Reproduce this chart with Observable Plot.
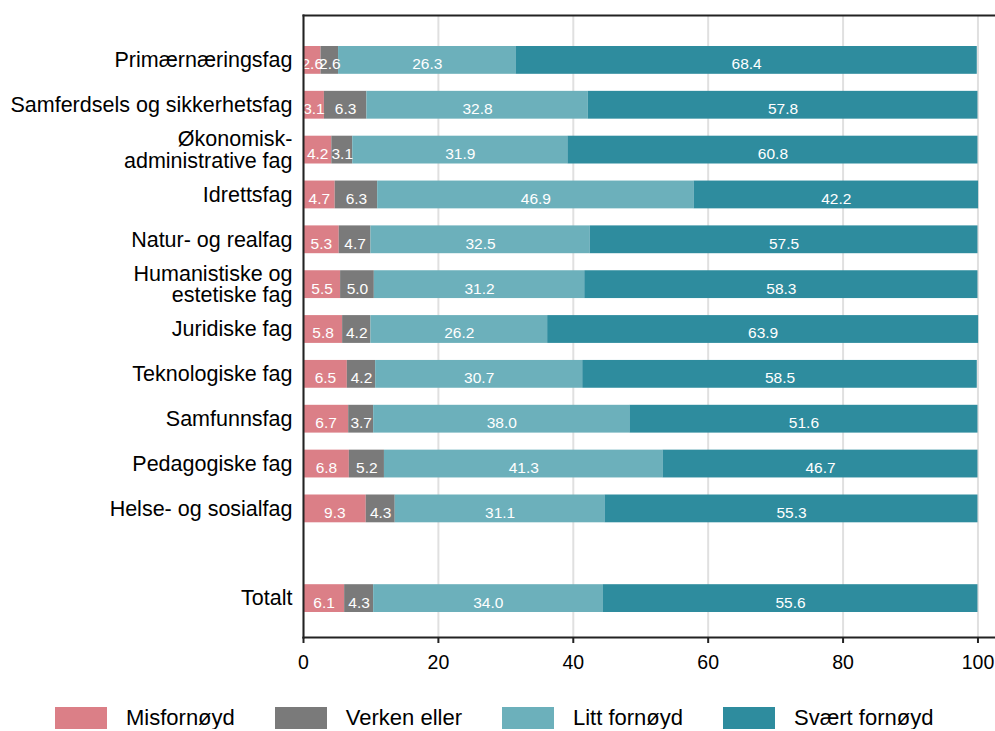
<!DOCTYPE html>
<html>
<head>
<meta charset="utf-8">
<script src="https://cdn.jsdelivr.net/npm/d3@7"></script>
<script src="https://cdn.jsdelivr.net/npm/@observablehq/plot@0.6"></script>
<style>
  body { margin: 0; background: #fff; font-family: "Liberation Sans", Arial, sans-serif; }
  #legend { display: flex; align-items: center; padding-left: 55px; margin-top: 12px; font-size: 22px; line-height: 22px; color: #000; }
  .item { display: flex; align-items: center; }
  .sw { width: 52px; height: 22px; margin-right: 19px; }
  .lab { margin-right: 40px; }
</style>
</head>
<body>
<div id="chart"></div>
<div id="legend"></div>
<script>
const categories = [
  "Primærnæringsfag",
  "Samferdsels og sikkerhetsfag",
  "Økonomisk-\nadministrative fag",
  "Idrettsfag",
  "Natur- og realfag",
  "Humanistiske og\nestetiske fag",
  "Juridiske fag",
  "Teknologiske fag",
  "Samfunnsfag",
  "Pedagogiske fag",
  "Helse- og sosialfag",
  "Totalt"
];
const misfornoyd = [2.6, 3.1, 4.2, 4.7, 5.3, 5.5, 5.8, 6.5, 6.7, 6.8, 9.3, 6.1];
const verkenEller = [2.6, 6.3, 3.1, 6.3, 4.7, 5.0, 4.2, 4.2, 3.7, 5.2, 4.3, 4.3];
const littFornoyd = [26.3, 32.8, 31.9, 46.9, 32.5, 31.2, 26.2, 30.7, 38.0, 41.3, 31.1, 34.0];
const svaertFornoyd = [68.4, 57.8, 60.8, 42.2, 57.5, 58.3, 63.9, 58.5, 51.6, 46.7, 55.3, 55.6];
const seriesNames = ["Misfornøyd", "Verken eller", "Litt fornøyd", "Svært fornøyd"];
const seriesColors = ["#DB7F87", "#7A7A7A", "#6CB0BB", "#2E8C9E"];
const xTicks = [0, 20, 40, 60, 80, 100];
const spacer = " ";

const seriesValues = [misfornoyd, verkenEller, littFornoyd, svaertFornoyd];
const data = [];
categories.forEach((c, i) => {
  seriesNames.forEach((s, j) => {
    data.push({cat: c, series: s, value: seriesValues[j][i]});
  });
});
const yDomain = [...categories.slice(0, 11), spacer, categories[11]];

const stackOpts = {x: "value", y: "cat", z: "series", order: seriesNames};

const chart = Plot.plot({
  width: 995,
  height: 695,
  marginLeft: 303,
  marginRight: 0,
  marginTop: 15,
  marginBottom: 58,
  style: {fontFamily: "'Liberation Sans', Arial, sans-serif", fontSize: "19px", color: "#000", background: "#fff"},
  x: {domain: [0, 102.6]},
  y: {domain: yDomain, range: [46, 612], paddingInner: 0.38, paddingOuter: 0, round: false},
  color: {domain: seriesNames, range: seriesColors},
  marks: [
    Plot.gridX(xTicks, {stroke: "#e0e0e0", strokeOpacity: 1, strokeWidth: 2}),
    Plot.barX(data, Plot.stackX({...stackOpts, fill: "series"})),
    Plot.text(data, Plot.stackX({...stackOpts, text: d => d.value.toFixed(1), fill: "white", fontSize: 15.5, dy: 4})),
    Plot.frame({anchor: "top", stroke: "#222", strokeWidth: 2}),
    Plot.frame({anchor: "left", stroke: "#222", strokeWidth: 2}),
    Plot.frame({anchor: "bottom", stroke: "#222", strokeWidth: 2}),
    Plot.axisX({ticks: xTicks, tickSize: 6, tickPadding: 12, fontSize: 19.5, label: null, stroke: "#222", strokeWidth: 2}),
    Plot.axisY({tickSize: 0, tickPadding: 11, fontSize: 21.5, lineHeight: 1, label: null, tickFormat: d => d})
  ]
});
document.getElementById("chart").appendChild(chart);

const legend = document.getElementById("legend");
seriesNames.forEach((s, i) => {
  const item = document.createElement("div");
  item.className = "item";
  const sw = document.createElement("div");
  sw.className = "sw";
  sw.style.background = seriesColors[i];
  const lab = document.createElement("span");
  lab.className = "lab";
  lab.textContent = s;
  item.appendChild(sw);
  item.appendChild(lab);
  legend.appendChild(item);
});
</script>
</body>
</html>
